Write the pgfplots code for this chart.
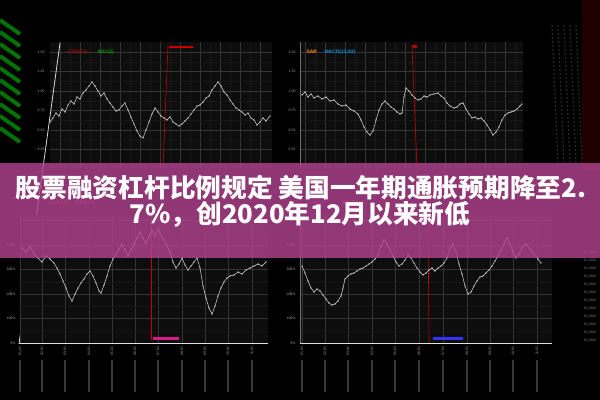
\documentclass[border=0pt]{standalone}
\usepackage{pgfplots}
\pgfplotsset{compat=1.18}
\usepackage{fontspec}
\setmainfont{Liberation Sans}
\newfontfamily\cjk{Noto Sans CJK SC}
\definecolor{banner}{RGB}{176,66,142}
\definecolor{gmaj}{RGB}{52,52,52}
\definecolor{gmin}{RGB}{24,24,24}
\definecolor{linec}{RGB}{215,215,215}
\pgfplotsset{
  panel/.style={
    scale only axis, anchor=south west,
    axis background/.style={fill=black!95!white},
    axis line style={draw=none},
    grid=both,
    major grid style={draw=gmaj, line width=0.45pt},
    minor grid style={draw=gmin, line width=0.25pt},
    minor tick num=1,
    tick style={draw=none},
    ticklabel style={font=\fontsize{3.5}{3.5}\selectfont, text=white!65!black},
    clip=true,
  },
  series/.style={linec, line width=0.5pt, mark=*, mark size=0.35pt, mark options={linec}},
}
\begin{document}
\begin{tikzpicture}
\useasboundingbox (0,0) rectangle (600bp,400bp);
\fill[black] (0,0) rectangle (600bp,400bp);
% decorations left (green ladder)
\foreach \yy in {380,368,356,344,332,320,308,296,284,272} {
  \draw[green!45!black, line width=4bp] (0bp,\yy bp) -- (20bp,\yy bp-14bp);
}
% decorations right
\foreach \xx in {552,558,564,570,576} {
  \draw[white!16!black, line width=1.2bp, dash pattern=on 2bp off 2bp] (\xx bp,375bp) -- (\xx bp+6bp,235bp);
}
\fill[red!22!black, opacity=0.6] (582bp,400bp) rectangle (600bp,230bp);
\foreach \yy in {148,140,132,124,116,108,100,92,84,76,68,60} {
  \node[font=\fontsize{3.5}{3.5}\selectfont, text=white!50!black] at (590bp,\yy bp) {15.1294};
}
% reflections
\foreach \xx in {20,42,65,89,112,135,158,182,205,228,252,302,325,348,372,395,419,443,467,490,513,537} {
  \draw[white, opacity=0.22, line width=1.3bp] (\xx bp,40bp) -- (\xx bp,8bp);
}

% ---------------- top-left panel
\begin{axis}[panel, at={(50bp,232bp)}, width=222bp, height=126bp,
  xmin=50, xmax=272, ymin=232, ymax=358,
  xtick={60,80,...,260}, xticklabels={},
  ytick={250.5,270,289.5,309,328.5,348}, yticklabels={0.25,0.50,0.75,1.00,1.25,1.50},
  yticklabel style={xshift=-2bp}]
\addplot[red!80!black, line width=0.6pt] coordinates {(168,355) (163,232)};
\addplot[series] table[y expr=400-\thisrowno{1}] {
x y
50 122
53 118
56 113
59 116
62 109
65 112
68 105
71 101
74 104
77 97
80 99
83 93
86 90
89 86
92 82
95 86
98 91
101 96
104 93
107 99
110 103
113 107
116 111
119 110
122 106
125 103
128 110
131 117
134 124
137 131
140 136
143 138
146 130
149 122
152 114
155 108
158 112
161 116
164 118
167 120
170 117
173 122
176 124
179 126
182 124
185 121
188 118
191 114
194 110
197 106
200 105
203 102
206 98
209 96
212 90
215 86
218 82
221 86
224 92
227 95
230 100
233 104
236 108
239 110
242 112
245 115
248 113
251 118
254 120
257 125
260 122
263 118
266 121
270 116
};
\end{axis}
\draw[white!85!black, line width=0.8pt] (60bp,357bp) -- (19bp,56bp);
\node[font=\fontsize{5}{5}\selectfont, text=red!90!black, anchor=west] at (63bp,347.5bp) {+DMI(14)};
\node[font=\fontsize{5}{5}\selectfont, text=green!80!black, anchor=west] at (94bp,347.5bp) {ADX(3)};
\fill[red!80!black] (169bp,353.5bp) rectangle (193bp,351.5bp);

% ---------------- top-right panel
\begin{axis}[panel, at={(300bp,232bp)}, width=223bp, height=126bp,
  xmin=300, xmax=523, ymin=232, ymax=358,
  xtick={305,325,...,525}, xticklabels={},
  ytick={250.5,270,289.5,309,328.5,348}, yticklabels={0.25,0.50,0.75,1.00,1.25,1.50},
  yticklabel style={xshift=-1bp}]
\addplot[red!80!black, line width=0.6pt] coordinates {(412,355) (417,232)};
\addplot[series] table[y expr=400-\thisrowno{1}] {
x y
302 95
305 92
308 97
311 94
314 98
318 96
322 99
326 97
330 101
334 100
338 104
342 106
346 105
350 109
354 111
358 114
361 120
364 127
367 132
370 135
373 131
376 120
379 110
382 104
385 101
388 104
391 107
394 109
397 112
400 114
402 113
404 97
406 88
409 91
412 95
415 98
418 100
421 99
424 96
427 97
430 95
434 94
438 93
441 96
444 98
447 103
450 106
454 108
457 107
460 104
463 103
466 109
469 114
472 118
475 117
478 119
481 118
484 121
487 125
490 130
493 135
496 132
499 127
502 120
505 115
508 113
511 112
514 111
517 109
520 106
522 104
};
\end{axis}
\draw[white!45!black, line width=0.6pt] (300bp,358bp) -- (300bp,232bp);
\node[font=\fontsize{5}{5}\selectfont, text=orange!90!yellow, anchor=west] at (303bp,347.8bp) {\bfseries SAR};
\node[font=\fontsize{5}{5}\selectfont, text=cyan!80!blue, anchor=west] at (321bp,347.8bp) {\bfseries MACD(13,93)};
\fill[red!70!black] (412bp,355bp) rectangle (417bp,352bp);

% ---------------- bottom-left panel
\begin{axis}[panel, at={(20bp,57bp)}, width=248bp, height=128bp,
  xmin=20, xmax=268, ymin=57, ymax=185,
  xtick={20,42,65,89,112,135,158,182,205,228,252},
  xticklabels={01.01,02.01,03.01,04.01,05.01,06.01,07.01,08.01,09.01,10.01,11.01},
  xticklabel style={rotate=90, anchor=east},
  ytick={57,81.5,106,130.5,155,179.5}, yticklabels={0\%,100\%,200\%,300\%,400\%,},
  yticklabel style={xshift=-1bp}]
\addplot[red!80!black, line width=0.6pt] coordinates {(151,185) (151,60)};
\addplot[series] table[y expr=400-\thisrowno{1}] {
x y
22 248
26 252
30 246
34 254
38 258
42 262
46 256
50 259
54 263
57 268
60 274
63 281
66 288
69 296
72 301
75 294
78 288
81 283
84 279
87 274
90 271
93 276
96 283
99 291
101 293
104 285
107 276
110 266
113 259
116 254
119 249
122 244
125 250
128 256
131 250
134 244
137 238
140 232
143 238
146 244
149 236
152 230
155 236
158 229
162 237
166 244
170 252
173 262
176 268
179 264
182 258
185 265
188 270
191 266
194 262
197 258
200 268
203 286
206 298
209 308
212 314
215 306
218 296
221 288
224 282
227 278
230 276
234 275
238 272
242 274
246 270
250 268
254 266
258 264
262 266
266 262
};
\end{axis}
\draw[white!88!black, line width=0.9pt] (19bp,57bp) -- (268bp,57bp);
\fill[magenta!75!violet] (153bp,62.5bp) rectangle (179bp,59.5bp);
\node[font=\fontsize{5}{5}\selectfont, text=red!80!pink, anchor=west] at (44bp,197bp) {+DMI(14)};
\node[font=\fontsize{5}{5}\selectfont, text=magenta!80!white, anchor=west] at (71bp,197bp) {-DMI(14)};

% ---------------- bottom-right panel
\begin{axis}[panel, at={(300bp,57bp)}, width=252bp, height=128bp,
  xmin=300, xmax=552, ymin=57, ymax=185,
  xtick={302,325,348,372,395,419,443,467,490,513,537},
  xticklabels={01.01,02.01,03.01,04.01,05.01,06.01,07.01,08.01,09.01,10.01,11.01},
  xticklabel style={rotate=90, anchor=east},
  ytick={57,81.5,106,130.5,155,179.5}, yticklabels={0\%,100\%,200\%,300\%,400\%,},
  yticklabel style={xshift=-1bp}]
\addplot[red!80!black, line width=0.6pt] coordinates {(428,185) (429,57)};
\addplot[series] table[y expr=400-\thisrowno{1}] {
x y
302 266
305 273
308 281
311 288
314 292
317 289
320 291
323 295
326 299
329 303
332 305
335 304
338 301
341 296
343 288
345 279
348 276
351 274
354 273
357 271
360 269
363 268
366 266
369 264
372 262
375 259
378 255
381 246
384 240
387 244
390 250
393 256
396 262
399 266
402 264
405 260
408 255
411 258
414 263
417 268
420 272
423 275
426 273
429 270
432 268
435 271
438 268
441 266
444 263
447 258
450 248
453 244
456 252
459 264
462 274
465 286
468 294
471 292
474 286
477 281
480 277
483 276
486 273
489 270
492 266
495 261
498 256
501 250
504 244
507 238
510 244
513 252
516 258
519 254
522 248
526 244
530 249
534 254
538 259
541 263
};
\end{axis}
\draw[white!88!black, line width=0.9pt] (300bp,57bp) -- (552bp,57bp);
\draw[white!45!black, line width=0.6pt] (300bp,57bp) -- (300bp,185bp);
\fill[blue!80!white] (433bp,62.5bp) rectangle (463bp,59.5bp);
\node[font=\fontsize{5}{5}\selectfont, text=violet!70!blue, anchor=west] at (303bp,197bp) {EMA(30)};
\node[font=\fontsize{5}{5}\selectfont, text=orange!80!yellow, anchor=west] at (339bp,197bp) {KELT(10)};

% ---------------- banner
\fill[banner, opacity=0.82] (0,142bp) rectangle (600bp,237bp);
\node[font=\cjk\bfseries\fontsize{25.8}{27}\selectfont, text=white, inner sep=0pt] at (301bp,212bp) {股票融资杠杆比例规定 美国一年期通胀预期降至2.};
\node[font=\cjk\bfseries\fontsize{25.8}{27}\selectfont, text=white, inner sep=0pt] at (300bp,186bp) {7\%，创2020年12月以来新低};
\end{tikzpicture}
\end{document}
